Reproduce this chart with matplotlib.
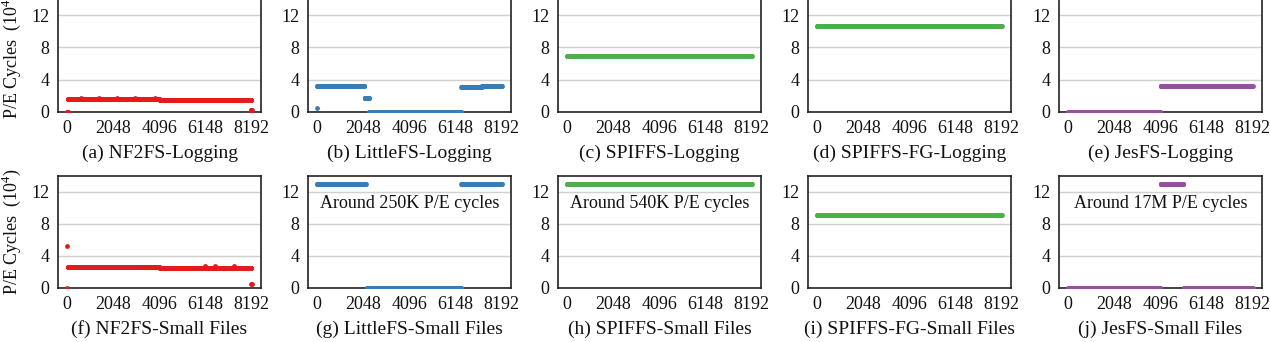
import numpy as np
import matplotlib
matplotlib.use("Agg")
import matplotlib.pyplot as plt

plt.rcParams['font.family'] = ['Liberation Serif', 'DejaVu Serif']
plt.rcParams['mathtext.fontset'] = 'custom'
plt.rcParams['mathtext.rm'] = 'Liberation Serif'

# ---- data: per-block P/E cycles (x10^4), given as constant runs (start, end, value) ----
BLOCKS = 8192
x_ticks = [0, 2048, 4096, 6148, 8192]
x_tick_labels = ["0", "2048", "4096", "6148", "8192"]
y_ticks = [0, 4, 8, 12]

captions = [
    "(a) NF2FS-Logging", "(b) LittleFS-Logging", "(c) SPIFFS-Logging",
    "(d) SPIFFS-FG-Logging", "(e) JesFS-Logging",
    "(f) NF2FS-Small Files", "(g) LittleFS-Small Files", "(h) SPIFFS-Small Files",
    "(i) SPIFFS-FG-Small Files", "(j) JesFS-Small Files",
]

nf2fs_log_runs = [(0, 32, 0.0), (32, 4096, 1.6), (4096, 8160, 1.5), (8160, 8192, 0.2)]
nf2fs_log_extra_x = [600, 1400, 2200, 3000, 3900]
nf2fs_log_extra_y = [1.7, 1.7, 1.7, 1.7, 1.7]

littlefs_log_runs = [(0, 2090, 3.2), (2100, 2300, 1.7), (2300, 6400, 0.0),
                     (6400, 7300, 3.05), (7300, 8192, 3.2)]
littlefs_log_extra_x = [0]
littlefs_log_extra_y = [0.5]

spiffs_log_runs = [(0, 8192, 6.9)]
spiffsfg_log_runs = [(0, 8192, 10.6)]
jesfs_log_runs = [(0, 4096, 0.0), (4096, 8192, 3.2)]

nf2fs_small_runs = [(32, 4096, 2.6), (4096, 8160, 2.55), (8176, 8192, 0.5)]
nf2fs_small_extra_x = [0, 0, 6100, 6570, 7400]
nf2fs_small_extra_y = [5.2, 0.0, 2.8, 2.8, 2.8]

littlefs_small_runs = [(0, 2150, 13.0), (2200, 6400, 0.0), (6400, 8192, 13.0)]
spiffs_small_runs = [(0, 8192, 13.0)]
spiffsfg_small_runs = [(0, 8192, 9.1)]
jesfs_small_runs = [(0, 4096, 0.0), (4096, 5120, 13.0), (5120, 8192, 0.0)]

notes = {6: "Around 250K P/E cycles", 7: "Around 540K P/E cycles",
         9: "Around 17M P/E cycles"}

RED, BLUE, GREEN, PURPLE = "#e41a1c", "#377eb8", "#4daf4a", "#984ea3"

panels = [
    (nf2fs_log_runs, nf2fs_log_extra_x, nf2fs_log_extra_y, RED),
    (littlefs_log_runs, littlefs_log_extra_x, littlefs_log_extra_y, BLUE),
    (spiffs_log_runs, [], [], GREEN),
    (spiffsfg_log_runs, [], [], GREEN),
    (jesfs_log_runs, [], [], PURPLE),
    (nf2fs_small_runs, nf2fs_small_extra_x, nf2fs_small_extra_y, RED),
    (littlefs_small_runs, [], [], BLUE),
    (spiffs_small_runs, [], [], GREEN),
    (spiffsfg_small_runs, [], [], GREEN),
    (jesfs_small_runs, [], [], PURPLE),
]


def expand(runs, step=8):
    xs, ys = [], []
    for start, end, val in runs:
        blk = np.arange(start, end, step)
        xs.append(blk)
        ys.append(np.full(blk.shape, val))
    return np.concatenate(xs), np.concatenate(ys)


W, H = 1270, 342
fig = plt.figure(figsize=(W / 100, H / 100), dpi=100)

lefts = [58, 308, 558, 808, 1059]
ax_w = 203
rows = [(-1, 112), (176, 288)]  # (top, bottom) in pixels
TXT = "#111111"

for i, (runs, ex, ey, color) in enumerate(panels):
    r, c = divmod(i, 5)
    top, bot = rows[r]
    ax = fig.add_axes([lefts[c] / W, 1 - bot / H, ax_w / W, (bot - top) / H])
    xs, ys = expand(runs)
    ax.scatter(xs, ys, s=12, color=color, linewidths=0, zorder=3)
    if ex:
        ax.scatter(ex, ey, s=12, color=color, linewidths=0, zorder=3)
    ax.set_xlim(-410, BLOCKS + 410)
    ax.set_ylim(0, 14)
    ax.set_xticks(x_ticks)
    ax.set_xticklabels(x_tick_labels)
    ax.set_yticks(y_ticks)
    ax.yaxis.grid(True, color="#d0d0d0", linewidth=1.0, zorder=0)
    ax.set_axisbelow(True)
    ax.tick_params(length=0, labelsize=13, pad=6, colors=TXT)
    for sp in ax.spines.values():
        sp.set_color("#222222")
        sp.set_linewidth(1.2)
    ax.set_xlabel(captions[i], fontsize=14, labelpad=5, color=TXT)
    if c == 0:
        ax.set_ylabel("P/E Cycles  (10$^4$)", fontsize=13, labelpad=6, color=TXT)
    if i in notes:
        ax.text(0.5, 10.6, notes[i], transform=ax.get_yaxis_transform(),
                ha="center", va="center", fontsize=13, color=TXT)

fig.savefig("out.png", dpi=100)
